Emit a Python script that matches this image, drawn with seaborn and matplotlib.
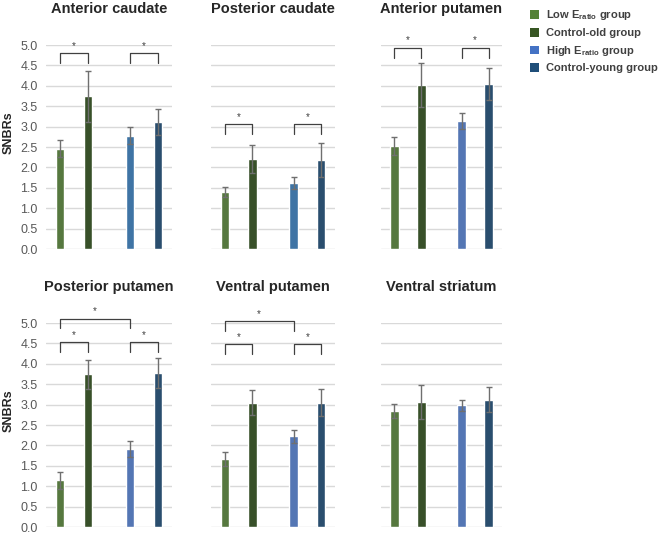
import matplotlib
matplotlib.use("Agg")
import matplotlib.pyplot as plt
from matplotlib.patches import Patch
import seaborn as sns
import pandas as pd


# -------------------- Data --------------------

regions = ["Anterior caudate", "Posterior caudate", "Anterior putamen",
           "Posterior putamen", "Ventral putamen", "Ventral striatum"]
groups = ["Low E_ratio", "Control-old", "High E_ratio", "Control-young"]

low_mean = [2.46, 1.40, 2.52, 1.14, 1.66, 2.84]
old_mean = [3.74, 2.21, 4.02, 3.74, 3.05, 3.06]
high_mean = [2.78, 1.62, 3.14, 1.91, 2.22, 2.98]
young_mean = [3.12, 2.18, 4.05, 3.77, 3.05, 3.12]

low_se = [0.20, 0.13, 0.22, 0.20, 0.17, 0.17]
old_se = [0.63, 0.35, 0.54, 0.36, 0.31, 0.42]
high_se = [0.20, 0.15, 0.20, 0.19, 0.16, 0.14]
young_se = [0.32, 0.42, 0.39, 0.36, 0.34, 0.31]

# significance brackets: (group a, group b, bracket top)
sig_pairs = [
    [(0, 1, 4.80), (2, 3, 4.80)],
    [(0, 1, 3.06), (2, 3, 3.06)],
    [(0, 1, 4.93), (2, 3, 4.93)],
    [(0, 1, 4.53), (2, 3, 4.53), (0, 2, 5.11)],
    [(0, 1, 4.48), (2, 3, 4.48), (0, 2, 5.04)],
    [],
]

legend_labels = [r"Low $\mathbf{E}_{\mathbf{ratio}}$ group", "Control-old group",
                 r"High $\mathbf{E}_{\mathbf{ratio}}$ group", "Control-young group"]


# -------------------- Style --------------------

bar_pos = [0, 1, 2.5, 3.5]
green = "#548235"
dark_green = "#375623"
dark_blue = "#1F4E79"
panel_blue = ["#2E75B6", "#2E75B6", "#4472C4", "#4472C4", "#4472C4", "#4472C4"]

sns.set_style("white")
plt.rcParams["font.family"] = ["Liberation Sans", "DejaVu Sans"]
plt.rcParams["mathtext.fontset"] = "custom"
plt.rcParams["mathtext.rm"] = "Liberation Sans"
plt.rcParams["mathtext.bf"] = "Liberation Sans:bold"

fig = plt.figure(figsize=(6.58, 5.33), dpi=100)
W, H = 658, 533

# axes boxes in pixels: (left, top, right, bottom)
boxes = [(46, 45, 172, 249), (211, 45, 335, 249), (381, 45, 502, 249),
         (46, 323, 172, 527), (211, 323, 335, 527), (381, 323, 502, 527)]

for k, region in enumerate(regions):
    l, t, r, b = boxes[k]
    ax = fig.add_axes([l / W, 1 - b / H, (r - l) / W, (b - t) / H])

    means = [low_mean[k], old_mean[k], high_mean[k], young_mean[k]]
    ses = [low_se[k], old_se[k], high_se[k], young_se[k]]
    colors = [green, dark_green, panel_blue[k], dark_blue]

    df = pd.DataFrame({"pos": bar_pos, "value": means, "group": groups})
    sns.barplot(
        data = df,
        x = "pos",
        y = "value",
        hue = "group",
        palette = colors,
        native_scale = True,
        dodge = False,
        width = 0.31,
        errorbar = None,
        legend = False,
        ax = ax,
        zorder = 2,
    )
    ax.errorbar(bar_pos, means, yerr=ses, fmt="none", ecolor="#6F6F6F",
                elinewidth=1.0, capsize=2, capthick=1.0, zorder=3)

    # significance brackets
    for a, c, top in sig_pairs[k]:
        xa, xc = bar_pos[a], bar_pos[c]
        ax.plot([xa, xa, xc, xc], [top - 0.24, top, top, top - 0.24],
                color="#404040", lw=0.9, clip_on=False, zorder=4)
        ax.text((xa + xc) / 2, top + 0.06, "*", ha="center", va="bottom",
                fontsize=7, color="#404040", clip_on=False)

    ax.set_xlim(-0.5, 4.0)
    ax.set_ylim(0, 5.0)
    ax.set_yticks([i * 0.5 for i in range(11)])
    ax.grid(True, axis="y", color="#D9D9D9", lw=1.0, zorder=0)
    ax.set_axisbelow(True)
    ax.set_xticks([])
    ax.set_xlabel("")
    ax.set_ylabel("")
    for s in ax.spines.values():
        s.set_visible(False)

    if k % 3 == 0:
        ax.set_yticklabels([f"{i * 0.5:.1f}" for i in range(11)])
        ax.tick_params(axis="y", length=0, pad=6, labelsize=9, labelcolor="#595959")
    else:
        ax.set_yticklabels([])
        ax.tick_params(axis="y", length=0)

    ax.set_title(region, fontsize=10.5, fontweight="bold", pad=23)

# y labels
fig.text(9 / W, 1 - 133 / H, "SNBRs", rotation=90, ha="center", va="center",
         fontsize=9, fontweight="bold")
fig.text(9 / W, 1 - 411 / H, "SNBRs", rotation=90, ha="center", va="center",
         fontsize=9, fontweight="bold")

# legend
handles = [Patch(facecolor=c, edgecolor="none")
           for c in [green, dark_green, "#4472C4", dark_blue]]
leg = fig.legend(handles, legend_labels, loc="upper left",
                 bbox_to_anchor=(526 / W, 1 - 4 / H), frameon=False,
                 handlelength=0.8, handleheight=0.8, handletextpad=0.6,
                 labelspacing=0.5, borderaxespad=0,
                 prop={"weight": "bold", "size": 8.0})
for txt in leg.get_texts():
    txt.set_color("#404040")

fig.savefig("out.png", dpi=100)
